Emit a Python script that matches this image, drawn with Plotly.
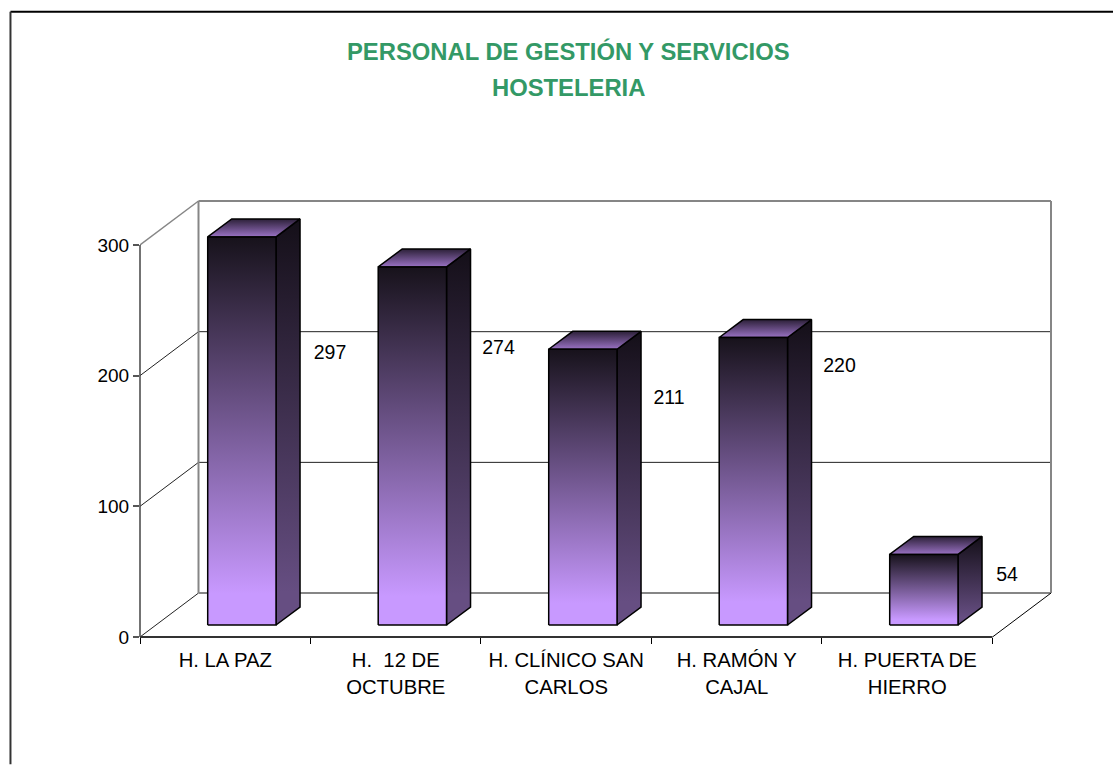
import plotly.graph_objects as go

categories = ["H. LA PAZ", "H.  12 DE<br>OCTUBRE", "H. CLÍNICO SAN<br>CARLOS", "H. RAMÓN Y<br>CAJAL", "H. PUERTA DE<br>HIERRO"]
values = [297, 274, 211, 220, 54]
y_ticks = [0, 100, 200, 300]
title_lines = ["PERSONAL DE GESTIÓN Y SERVICIOS", "HOSTELERIA"]

W, H = 1113, 765
L, R, T, B = 140, 992.3, 245, 637.5
PAD = 4
PX = (R - L) / 5            # px per category
PY = (B - T) / 300          # px per unit
WX, WY = 58.5 / PX, 44 / PY   # wall depth
DX, DY = 24 / PX, 18 / PY     # bar depth
BAR_L, BAR_W = 67.7 / PX, 68.3 / PX
BAR_BASE = 12 / PY
LBL_DX = [30, 28, 28, 28, 25]
LBL_DY = [117, 82, 50, 29.5, 22]
X_WALL, Y_WALL = 5 + WX, 300 + WY
X_MAX, Y_MAX = X_WALL + PAD / PX, Y_WALL + PAD / PY
PL_R, PL_T = R + 58.5 + PAD, T - 44 - PAD

GRAY = "#868686"
fig = go.Figure()


def line(xs, ys, color, width):
    fig.add_trace(go.Scatter(x=xs, y=ys, mode="lines", line=dict(color=color, width=width),
                             cliponaxis=False, hoverinfo="skip", showlegend=False))


# walls
for v in y_ticks:
    inner = v in (100, 200)
    line([0, WX], [v, v + WY], "#222222" if v != 300 else GRAY, 1 if v != 300 else 1.5)
    c, w = ("#222222", 1) if inner else (GRAY, 2)
    line([WX, X_WALL], [v + WY, v + WY], c, w)
line([WX, WX], [WY, Y_WALL], GRAY, 2)
line([X_WALL, X_WALL], [WY, Y_WALL], GRAY, 2)
line([5, X_WALL], [0, WY], "#000000", 1)


def face(xs, ys, lo, hi, c_lo, c_hi, hold=0.0):
    scale = [[0, c_lo], [1, c_hi]] if not hold else [[0, c_lo], [hold, c_lo], [1, c_hi]]
    fig.add_trace(go.Scatter(
        x=xs, y=ys, mode="lines", fill="toself", line=dict(color="#000000", width=1.5),
        fillgradient=dict(type="vertical", start=lo, stop=hi, colorscale=scale),
        cliponaxis=False, hoverinfo="skip", showlegend=False))


for i, v in enumerate(values):
    x0 = i + BAR_L
    x1 = x0 + BAR_W
    b = BAR_BASE
    t = b + v
    face([x1, x1 + DX, x1 + DX, x1, x1], [b, b + DY, t + DY, t, b], b, t + DY, "#664e82", "#140f18", 0.08)
    face([x0, x1, x1 + DX, x0 + DX, x0], [t, t, t + DY, t + DY, t], t, t + DY, "#9a72c4", "#2c2038")
    face([x0, x1, x1, x0, x0], [b, b, t, t, b], b, t, "#c899ff", "#17121b", 0.08)

fig.add_trace(go.Scatter(
    x=[i + BAR_L + BAR_W + DX + d / PX for i, d in enumerate(LBL_DX)],
    y=[BAR_BASE + v - d / PY for v, d in zip(values, LBL_DY)],
    mode="text", text=[str(v) for v in values], textposition="middle center",
    textfont=dict(family="Liberation Sans", size=19.5, color="#000000"),
    cliponaxis=False, hoverinfo="skip", showlegend=False))


def px_x(p):
    return (p - L) / (PL_R - L)


def px_y(p):
    return (B - p) / (B - PL_T)


shapes = [
    dict(type="line", xref="paper", yref="paper", layer="above", x0=px_x(L), x1=px_x(R), y0=0, y1=0,
         line=dict(color="#333333", width=2)),
    dict(type="line", xref="paper", yref="paper", layer="above", x0=0, x1=0, y0=0, y1=px_y(T),
         line=dict(color="#444444", width=1.5)),
    dict(type="line", xref="paper", yref="paper", x0=px_x(10.5), x1=px_x(W), y0=px_y(11.5), y1=px_y(11.5),
         line=dict(color="#000000", width=2)),
    dict(type="line", xref="paper", yref="paper", x0=px_x(10.5), x1=px_x(10.5), y0=px_y(11.5), y1=px_y(H),
         line=dict(color="#333333", width=2)),
]

annotations = [
    dict(text=t, xref="paper", yref="paper", x=px_x(568), y=px_y(py), xanchor="center", yanchor="middle",
         showarrow=False, font=dict(family="Liberation Sans", size=23.8, color="#339966", weight="bold"))
    for t, py in zip(title_lines, [51, 87.5])
]

fig.update_layout(
    width=W, height=H, autosize=False,
    margin=dict(l=L, r=W - PL_R, t=PL_T, b=H - B, pad=0),
    paper_bgcolor="#ffffff", plot_bgcolor="rgba(0,0,0,0)", showlegend=False,
    font=dict(family="Liberation Sans", size=19, color="#000000"),
    annotations=annotations,
    shapes=shapes,
    xaxis=dict(range=[0, X_MAX], tickvals=[i + 0.5 for i in range(5)], ticktext=categories,
               ticks="", showgrid=False, zeroline=False, showline=False,
               tickfont=dict(size=20.3), ticklabelstandoff=9,
               minor=dict(tickvals=list(range(6)), ticks="outside", ticklen=6, tickcolor="#000000", tickwidth=1, showgrid=False)),
    yaxis=dict(range=[0, Y_MAX], tickvals=y_ticks, ticks="outside", ticklen=6, tickcolor="#555555", tickwidth=1.5,
               showgrid=False, zeroline=False, showline=False,
               tickfont=dict(size=19)),
)
fig.write_html("out.html", post_script="document.body.style.margin='0';", config={"displayModeBar": False})
